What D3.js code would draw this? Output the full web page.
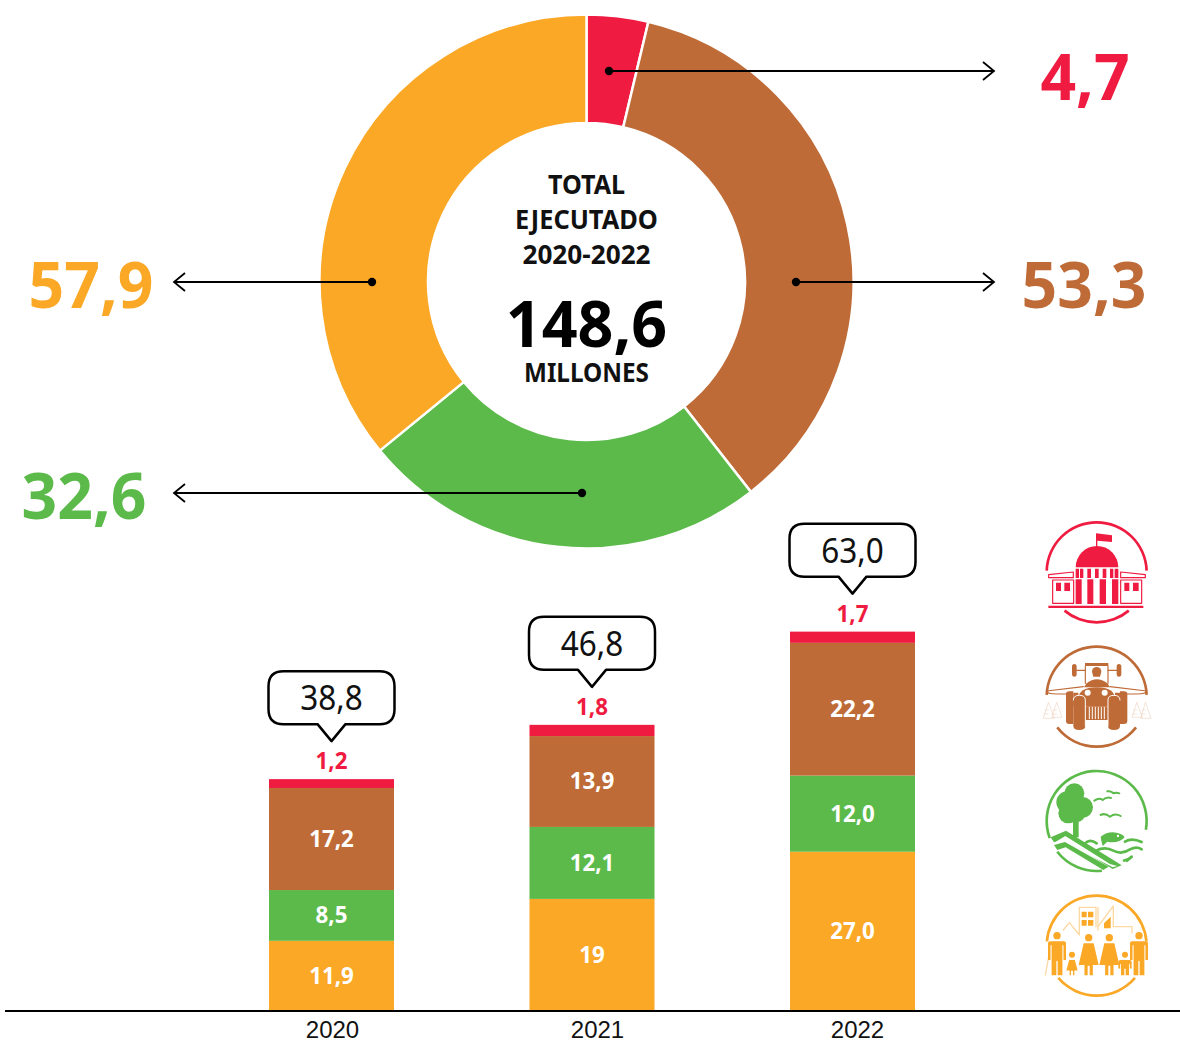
<!DOCTYPE html>
<html>
<head>
<meta charset="utf-8">
<title>Total ejecutado 2020-2022</title>
<script src="https://cdn.jsdelivr.net/npm/d3@7/dist/d3.min.js"></script>
<style>
	html, body { margin: 0; padding: 0; background: #fff; }
	svg { display: block; }
	text { font-family: "Noto Sans", "Open Sans", sans-serif; }
</style>
</head>
<body>
<svg id="chart" width="1180" height="1044"></svg>
<script>
var sectors = ["institucional", "productivo", "ambiental", "social"];
var sectorColors = ["#ef1b40", "#bf6b37", "#5bba4a", "#faa826"];

var totalLabel = ["TOTAL", "EJECUTADO", "2020-2022"];
var totalValue = "148,6";
var totalUnit = "MILLONES";

var donutLabels = ["4,7", "53,3", "32,6", "57,9"];
// slice spans in degrees as measured on the picture, its arcs do not follow the printed shares
var donutSpans = [13.4, 128.6, 88.7, 129.3];

var years = ["2020", "2021", "2022"];
// segment sizes as measured on the picture, the printed numbers are in the label lists below
var redValues = [1.5, 1.9, 1.9];
var brownValues = [17.3, 15.4, 22.5];
var greenValues = [8.6, 12.2, 12.9];
var orangeValues = [11.9, 19, 27.0];
var brownLabels = ["17,2", "13,9", "22,2"];
var greenLabels = ["8,5", "12,1", "12,0"];
var orangeLabels = ["11,9", "19", "27,0"];
var redLabels = ["1,2", "1,8", "1,7"];
var totalLabels = ["38,8", "46,8", "63,0"];

var svg = d3.select("#chart");

function label(g, x, y, txt, size, color, weight, sx) {
	return g.append("text")
		.attr("transform", "translate(" + x + "," + y + ") scale(" + (sx || 1) + ",1)")
		.attr("text-anchor", "middle")
		.attr("font-size", size)
		.attr("font-weight", weight || 700)
		.attr("fill", color)
		.text(txt);
}

// 1. Donut
var cx = 586.5, cy = 281.5;
var pie = d3.pie().sort(null).value(function(d) { return d; });
var arc = d3.arc().innerRadius(158.5).outerRadius(267);

svg.append("g")
	.attr("transform", "translate(" + cx + "," + cy + ")")
	.selectAll("path")
	.data(pie(donutSpans))
	.enter()
	.append("path")
	.attr("d", arc)
	.attr("fill", function(d, i) { return sectorColors[i]; })
	.attr("stroke", "#fff")
	.attr("stroke-width", 2.5);

var center = svg.append("g");
label(center, cx, 194, totalLabel[0], 27, "#111", 700, 0.93);
label(center, cx, 229, totalLabel[1], 27, "#111", 700, 0.94);
label(center, cx, 264, totalLabel[2], 27, "#111", 700, 0.97);
label(center, cx, 347, totalValue, 64, "#000", 700, 0.98);
label(center, cx, 382, totalUnit, 27, "#111", 700, 0.9);

// 2. Leader lines, same order as the slices
var leaders = [
	{ from: 609, to: 994, y: 71, tx: 1085, ty: 100 },
	{ from: 796, to: 994, y: 282, tx: 1084, ty: 308 },
	{ from: 582, to: 174, y: 493, tx: 84, ty: 519 },
	{ from: 372, to: 174, y: 282, tx: 91, ty: 308 }
];

leaders.forEach(function(l, i) {
	var dir = l.to > l.from ? -1 : 1;
	var g = svg.append("g");
	g.append("line")
		.attr("x1", l.from).attr("x2", l.to)
		.attr("y1", l.y).attr("y2", l.y)
		.attr("stroke", "#000").attr("stroke-width", 1.8);
	g.append("path")
		.attr("d", "M" + (l.to + dir * 11) + "," + (l.y - 9) + "L" + l.to + "," + l.y + "L" + (l.to + dir * 11) + "," + (l.y + 9))
		.attr("fill", "none").attr("stroke", "#000").attr("stroke-width", 1.8);
	g.append("circle")
		.attr("cx", l.from).attr("cy", l.y).attr("r", 4.2).attr("fill", "#000");
	label(g, l.tx, l.ty, donutLabels[i], 65, sectorColors[i], 700, 0.96);
});

// 3. Stacked bars
var baseY = 1011;
var barWidth = 125;
var x = d3.scalePoint().domain(years).range([331.5, 852.5]);
var y = d3.scaleLinear().domain([0, 70]).range([baseY, baseY - 413]);

var rows = years.map(function(year, i) {
	return { year: year, social: orangeValues[i], ambiental: greenValues[i], productivo: brownValues[i], institucional: redValues[i] };
});
var stack = d3.stack().keys(["social", "ambiental", "productivo", "institucional"]);
var layers = stack(rows);
var layerColors = [sectorColors[3], sectorColors[2], sectorColors[1], sectorColors[0]];
var layerLabels = [orangeLabels, greenLabels, brownLabels];

layers.forEach(function(layer, k) {
	var g = svg.append("g");
	g.selectAll("rect")
		.data(layer)
		.enter()
		.append("rect")
		.attr("x", function(d) { return x(d.data.year) - barWidth / 2; })
		.attr("y", function(d) { return y(d[1]); })
		.attr("width", barWidth)
		.attr("height", function(d) { return y(d[0]) - y(d[1]); })
		.attr("fill", layerColors[k]);

	if (layerLabels[k]) {
		layer.forEach(function(d, i) {
			label(g, x(years[i]), (y(d[0]) + y(d[1])) / 2 + 8, layerLabels[k][i], 23.5, "#fff", 700, 0.95);
		});
	}
});

// 4. Callouts over the bars
years.forEach(function(year, i) {
	var top = y(layers[3][i][1]);
	var c = x(year);
	var g = svg.append("g");
	label(g, c, top - 10, redLabels[i], 23.5, sectorColors[0], 700, 0.95);

	var tip = top - 38, b = tip - 17, t = b - 53, l = c - 63, r = c + 63, rad = 15;
	g.append("path")
		.attr("d", "M" + (l + rad) + "," + t + "H" + (r - rad) + "Q" + r + "," + t + " " + r + "," + (t + rad) +
			"V" + (b - rad) + "Q" + r + "," + b + " " + (r - rad) + "," + b +
			"H" + (c + 14) + "L" + c + "," + tip + "L" + (c - 14) + "," + b +
			"H" + (l + rad) + "Q" + l + "," + b + " " + l + "," + (b - rad) +
			"V" + (t + rad) + "Q" + l + "," + t + " " + (l + rad) + "," + t + "Z")
		.attr("fill", "#fff").attr("stroke", "#000").attr("stroke-width", 2.5)
		.attr("stroke-linejoin", "round");
	label(g, c, t + 39, totalLabels[i], 35, "#111", 400, 0.9);
});

// 5. Baseline and year ticks
var yearScale = d3.scaleOrdinal().domain(years).range([332, 597, 857]);
var axis = svg.append("g")
	.attr("transform", "translate(0," + baseY + ")")
	.call(d3.axisBottom(yearScale).tickSize(0).tickPadding(10));
axis.select(".domain").remove();
axis.selectAll("text")
	.attr("font-size", 24)
	.style("font-family", '"Liberation Sans", sans-serif')
	.attr("fill", "#111");

svg.append("line")
	.attr("x1", 5).attr("x2", 1180)
	.attr("y1", baseY).attr("y2", baseY)
	.attr("stroke", "#000").attr("stroke-width", 2.2);

// 6. Icons, drawn at 3x and scaled down
function ring(g, color, cxi, cyi, arcs) {
	arcs.forEach(function(a) {
		g.append("path")
			.attr("d", d3.arc().innerRadius(146).outerRadius(154).startAngle(a[0] * Math.PI / 180).endAngle(a[1] * Math.PI / 180)())
			.attr("transform", "translate(" + cxi + "," + cyi + ")")
			.attr("fill", color);
	});
}

function shapes(g, color, list) {
	list.forEach(function(d) {
		g.append("path").attr("d", d).attr("fill", color);
	});
}

function strokes(g, color, width, list) {
	list.forEach(function(d) {
		g.append("path").attr("d", d).attr("fill", "none").attr("stroke", color).attr("stroke-width", width)
			.attr("stroke-linecap", "round").attr("stroke-linejoin", "round");
	});
}

var iconTop = svg.append("g").attr("transform", "translate(1030,510) scale(0.3333)");
var iconLow = svg.append("g").attr("transform", "translate(1030,760) scale(0.3333)");

// capitol
var red = sectorColors[0];
var capitol = iconTop.append("g");
ring(capitol, red, 200, 187, [[-88, 88], [140, 220]]);
shapes(capitol, red, [
	"M137,172A64,64 0 0 1 265,172Z",
	"M198,70L246,76V96L202,92V110H198Z",
	"M137,176H147V204H137ZM150,176H160V204H150ZM172,176H183V204H172ZM195,176H206V204H195ZM218,176H229V204H218ZM240,176H250V204H240ZM254,176H265V204H254Z",
	"M137,208H155V282H137ZM172,208H190V282H172ZM209,208H228V282H209ZM246,208H265V282H246Z",
	"M78,218H93V243H78ZM103,218H120V243H103ZM283,218H298V243H283ZM309,218H326V243H309Z",
	"M55,287H340V294H55Z"
]);
strokes(capitol, red, 3.5, [
	"M56,194L130,186V203H56Z",
	"M272,186L346,194V203H272Z",
	"M68,210H131V280H68Z",
	"M272,210H335V280H272Z"
]);

// tractor
var brown = sectorColors[1];
var tractor = iconTop.append("g");
ring(tractor, brown, 200, 560, [[-88, 88], [128, 232]]);
shapes(tractor, brown, [
	"M126,470Q126,462 133,462Q140,462 140,470V492Q140,500 133,500Q126,500 126,492Z",
	"M260,470Q260,462 267,462Q274,462 274,470V492Q274,500 267,500Q260,500 260,492Z",
	"M165,459H235V468H165Z",
	"M186,485A14,14 0 1 1 214,485L210,500H190Z",
	"M170,520Q200,495 232,520L240,532H162Z",
	"M145,568Q145,532 200,532Q255,532 255,568V590H145Z",
	"M108,552Q108,544 118,544H130V642H118Q108,642 108,632Z",
	"M270,544H282Q292,544 292,552V632Q292,642 282,642H270Z",
	"M130,548H145V590H130ZM255,548H270V590H255Z",
	"M130,570Q130,556 148,556Q166,556 166,570V648Q166,660 148,660Q130,660 130,648Z",
	"M234,570Q234,556 252,556Q270,556 270,570V648Q270,660 252,660Q234,660 234,648Z",
	"M166,590H234V630H166Z"
]);
strokes(tractor, "#fff", 3, [
	"M178,592V626M187,592V626M196,592V626M205,592V626M214,592V626M223,592V626",
	"M130,570Q130,556 148,556Q166,556 166,570V648",
	"M234,648V570Q234,556 252,556Q270,556 270,570"
]);
strokes(tractor, brown, 3.5, [
	"M50,543L160,530M350,543L240,530",
	"M50,543Q50,552 80,552H110M350,543Q350,552 320,552H290",
	"M166,468V520M234,468V520",
	"M140,481H166M234,481H260"
]);
tractor.selectAll(".eye").data([173, 224]).enter().append("circle")
	.attr("cx", function(d) { return d; }).attr("cy", 548).attr("r", 9).attr("fill", "#fff");
strokes(tractor, "#e8c8b0", 1.5, [
	"M55,578L40,625H72ZM55,600H45M55,612H42",
	"M80,578L65,622H95ZM80,600H70M80,612H67",
	"M320,578L306,622H336ZM320,600H311M320,612H308",
	"M346,578L332,625H362ZM346,600H337M346,612H334"
]);

// tree, birds and fish
var green = sectorColors[2];
var nature = iconLow.append("g");
ring(nature, green, 200, 183, [[-110, 100], [135, 144], [174, 232]]);
var crowns = [[133, 100, 30], [112, 127, 33], [158, 142, 31], [115, 160, 30], [140, 160, 26]];
nature.selectAll(".crown").data(crowns).enter().append("circle")
	.attr("cx", function(d) { return d[0]; }).attr("cy", function(d) { return d[1]; }).attr("r", function(d) { return d[2]; })
	.attr("fill", green);
shapes(nature, green, [
	"M129,175H146V232H129Z",
	"M62,232L108,212L250,300L275,316L248,327L105,240L72,247Z",
	"M212,230Q240,208 272,222Q285,228 283,233Q262,252 232,245L218,258Q214,245 212,230Z"
]);
shapes(nature, "#fff", ["M70,250L106,228L240,312L262,318L248,322L106,248L78,262Z"]);
shapes(nature, green, ["M72,255L105,246L236,320L220,330L107,262L82,270Z"]);
nature.append("circle").attr("cx", 264).attr("cy", 228).attr("r", 3.5).attr("fill", "#fff");
strokes(nature, green, 6, [
	"M193,122Q208,112 218,120Q230,110 243,114",
	"M232,94Q245,92 250,100Q258,96 268,100",
	"M212,165Q225,158 240,170Q255,158 272,168"
]);
strokes(nature, green, 8, [
	"M165,250Q180,235 200,250",
	"M285,245Q305,232 335,246",
	"M198,272Q225,258 250,272Q275,285 300,268Q320,258 335,268",
	"M282,302Q295,300 305,290"
]);

// family and buildings
var orange = sectorColors[3];
var family = iconLow.append("g");
ring(family, orange, 200, 557, [[-85, 85], [130, 230]]);

function person(cxp, head, shoulder, foot, half, headR, dress) {
	family.append("circle").attr("cx", cxp).attr("cy", head).attr("r", headR).attr("fill", orange);
	var b = shoulder, w = half;
	var d = dress
		? "M" + (cxp - w * 0.5) + "," + b + "H" + (cxp + w * 0.5) + "L" + (cxp + w) + "," + (foot - (foot - b) * 0.32) + "H" + (cxp + w * 0.42) + "V" + foot + "H" + (cxp + 3) + "V" + (foot - (foot - b) * 0.3) + "H" + (cxp - 3) + "V" + foot + "H" + (cxp - w * 0.42) + "V" + (foot - (foot - b) * 0.32) + "H" + (cxp - w) + "Z"
		: "M" + (cxp - w) + "," + (b + 6) + "Q" + (cxp - w) + "," + b + " " + (cxp - w + 6) + "," + b + "H" + (cxp + w - 6) + "Q" + (cxp + w) + "," + b + " " + (cxp + w) + "," + (b + 6) + "V" + (foot - (foot - b) * 0.45) + "H" + (cxp + w * 0.72) + "V" + (b + 12) + "H" + (cxp + w * 0.6) + "V" + foot + "H" + (cxp + 2) + "V" + (foot - (foot - b) * 0.42) + "H" + (cxp - 2) + "V" + foot + "H" + (cxp - w * 0.6) + "V" + (b + 12) + "H" + (cxp - w * 0.72) + "V" + (foot - (foot - b) * 0.45) + "H" + (cxp - w) + "Z";
	family.append("path").attr("d", d).attr("fill", orange);
}

strokes(family, "#fdd9a3", 4, [
	"M148,525V442H198V500M204,500L250,438V500H306V518",
	"M100,510L118,488L146,522",
	"M58,580L46,645",
	"M204,510V442"
]);
shapes(family, orange, [
	"M155,455H170V472H155ZM174,455H190V472H174ZM155,480H170V497H155ZM174,480H190V497H174Z",
	"M222,490L242,470V505H222Z"
]);
person(81, 527, 544, 646, 27, 11, false);
person(126, 584, 600, 646, 17, 9, true);
person(176, 533, 550, 646, 30, 11, true);
person(238, 533, 550, 646, 30, 11, true);
person(285, 584, 600, 646, 20, 9, false);
person(327, 527, 544, 646, 27, 11, false);
</script>
</body>
</html>
